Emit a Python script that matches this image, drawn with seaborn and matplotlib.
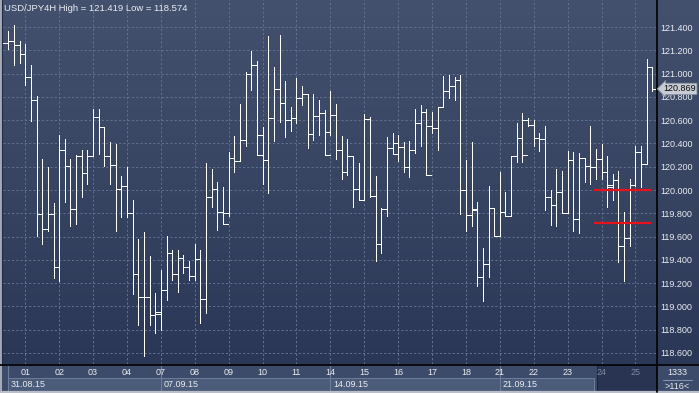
import numpy as np
import pandas as pd
import matplotlib
matplotlib.use("Agg")
import matplotlib.pyplot as plt
import matplotlib.transforms as mtransforms
from matplotlib.patches import Rectangle
from matplotlib.colors import LinearSegmentedColormap
import seaborn as sns

# ---------------- data (USD/JPY, 4H bars) ----------------
bar_open = [121.262, 121.283, 121.248, 121.171, 120.970, 120.775, 119.795, 119.669, 119.795, 119.337,
            120.346, 120.208, 119.838, 120.294, 120.145, 120.294, 120.626, 120.540, 120.294, 120.214,
            120.007, 120.036, 119.801, 119.277, 119.082, 119.082, 118.924, 118.933, 119.142, 119.457,
            119.277, 119.414, 119.337, 119.263, 119.409, 119.062, 119.939, 120.007, 119.810, 119.801,
            120.277, 120.248, 120.432, 120.999, 121.076, 120.475, 120.254, 120.618, 120.867, 120.747,
            120.603, 120.618, 120.790, 120.824, 120.480, 120.638, 120.661, 120.495, 120.644, 120.346,
            120.154, 120.294, 120.007, 119.916, 120.612, 119.950, 119.535, 119.838, 120.360, 120.403,
            120.369, 120.197, 120.346, 120.575, 120.669, 120.552, 120.532, 120.712, 120.847, 120.896,
            120.947, 120.002, 119.781, 119.830, 119.251, 119.363, 119.844, 119.601, 119.810, 119.773,
            120.294, 120.446, 120.603, 120.560, 120.446, 120.437, 119.939, 119.870, 119.979, 119.801,
            120.260, 119.750, 120.274, 120.208, 120.197, 120.265, 120.154, 120.039, 120.082, 119.523,
            119.586, 120.045, 120.323, 120.222, 121.056]
bar_high = [121.368, 121.419, 121.283, 121.257, 121.076, 120.810, 120.268, 120.194, 119.887, 120.475,
            120.440, 120.268, 120.303, 120.346, 120.346, 120.695, 120.695, 120.540, 120.411, 120.397,
            120.116, 120.194, 119.916, 119.583, 119.635, 119.434, 119.119, 119.314, 119.601, 119.486,
            119.486, 119.443, 119.391, 119.538, 119.486, 120.231, 120.182, 120.068, 120.030, 120.326,
            120.460, 120.741, 121.010, 121.197, 121.111, 120.538, 121.320, 121.056, 121.328, 120.939,
            120.712, 120.962, 120.896, 120.824, 120.827, 120.775, 120.689, 120.847, 120.741, 120.460,
            120.440, 120.294, 120.231, 120.652, 120.626, 120.116, 119.844, 120.452, 120.489, 120.475,
            120.409, 120.417, 120.695, 120.732, 120.695, 120.672, 120.712, 120.982, 120.990, 120.970,
            120.990, 120.260, 120.411, 119.901, 119.500, 120.036, 119.844, 120.151, 119.982, 120.294,
            120.575, 120.661, 120.618, 120.603, 120.489, 120.546, 120.002, 120.179, 120.159, 120.331,
            120.323, 120.317, 120.274, 120.546, 120.351, 120.397, 120.288, 120.139, 120.165, 119.815,
            120.093, 120.380, 120.380, 121.125, 121.056]
bar_low = [121.211, 121.070, 121.091, 120.899, 120.589, 119.601, 119.532, 119.652, 119.248, 119.214,
           119.901, 119.695, 119.704, 119.936, 120.053, 120.294, 120.311, 120.202, 120.053, 119.644,
           119.764, 119.764, 119.108, 118.841, 118.574, 118.841, 118.775, 118.798, 119.056, 119.228,
           119.128, 119.285, 119.228, 119.228, 118.856, 118.947, 119.850, 119.658, 119.707, 119.773,
           120.151, 120.254, 120.374, 120.861, 120.297, 120.053, 119.973, 120.417, 120.581, 120.452,
           120.503, 120.575, 120.727, 120.360, 120.426, 120.469, 120.297, 120.475, 120.265, 120.093,
           120.131, 119.850, 119.916, 119.916, 119.944, 119.394, 119.457, 119.773, 120.308, 120.245,
           120.151, 120.111, 120.317, 120.374, 120.131, 120.489, 120.340, 120.712, 120.790, 120.770,
           119.793, 119.652, 119.687, 119.179, 119.050, 119.251, 119.601, 119.601, 119.773, 119.773,
           120.237, 120.237, 120.546, 120.380, 120.331, 119.824, 119.701, 119.692, 119.801, 119.801,
           119.652, 119.629, 120.065, 120.050, 120.093, 120.093, 119.858, 119.910, 119.380, 119.222,
           119.523, 120.036, 120.025, 120.222, 120.853]
bar_close = [121.283, 121.248, 121.171, 120.970, 120.775, 119.795, 119.669, 119.795, 119.337, 120.346,
             120.208, 119.838, 120.294, 120.145, 120.294, 120.626, 120.540, 120.294, 120.214, 120.007,
             120.036, 119.801, 119.277, 119.082, 119.082, 118.924, 118.950, 119.142, 119.457, 119.277,
             119.414, 119.337, 119.263, 119.409, 119.062, 119.939, 120.007, 119.810, 119.709, 120.277,
             120.248, 120.432, 120.999, 121.076, 120.300, 120.254, 120.618, 120.867, 120.747, 120.603,
             120.618, 120.790, 120.824, 120.480, 120.638, 120.661, 120.300, 120.644, 120.346, 120.154,
             120.294, 120.007, 119.916, 120.612, 119.950, 119.535, 119.838, 120.360, 120.308, 120.369,
             120.197, 120.346, 120.575, 120.669, 120.131, 120.532, 120.712, 120.847, 120.896, 120.947,
             120.002, 119.781, 119.836, 119.251, 119.363, 119.844, 119.601, 119.810, 119.773, 120.294,
             120.446, 120.303, 120.560, 120.446, 120.437, 119.939, 119.870, 119.979, 119.801, 120.260,
             119.750, 120.274, 120.208, 120.197, 120.265, 120.154, 120.030, 120.082, 119.523, 119.586,
             120.045, 120.323, 120.222, 121.056, 120.869]

day_labels = ['01', '02', '03', '04', '07', '08', '09', '10', '11', '14',
              '15', '16', '17', '18', '21', '22', '23', '24', '25']
day_first_bar = [3, 9, 15, 21, 27, 33, 39, 45, 51, 57, 63, 69, 75, 81, 87, 93, 99, 105, 111]
dim_days = ['24', '25']
week_labels = ['31.08.15', '07.09.15', '14.09.15', '21.09.15']
week_first_bar = [0, 27, 57, 87]
current_zone_start_bar = 104.2
level_prices = [120.000, 119.718]
level_start_bar = 103.7
level_end_bar = 113.75
price_ticks = [118.6, 118.8, 119.0, 119.2, 119.4, 119.6, 119.8, 120.0,
               120.2, 120.4, 120.6, 120.8, 121.0, 121.2, 121.4]
chart_title = "USD/JPY4H High = 121.419 Low = 118.574"
last_price = 120.869
corner_top = "1333"
corner_bottom = ">116<"

df = pd.DataFrame({"bar": np.arange(len(bar_close)), "open": bar_open,
                   "high": bar_high, "low": bar_low, "close": bar_close})

# ---------------- style ----------------
sns.set_theme(style="dark")
plt.rcParams['font.family'] = ['Liberation Sans', 'DejaVu Sans']
FS = 6.5
TXT = '#e9ecf2'
GRID = '#617192'

W, H = 699, 393
fig = plt.figure(figsize=(W / 100, H / 100), dpi=100)
fig.patch.set_facecolor('#3c4b69')

# background / decoration layer in pixel coordinates
bg = fig.add_axes([0, 0, 1, 1])
bg.set_xlim(0, W)
bg.set_ylim(H, 0)
bg.axis('off')
cmap = LinearSegmentedColormap.from_list('g', ['#43516e', '#2b3756'])
grad = np.linspace(0, 1, 256).reshape(-1, 1)
bg.imshow(grad, extent=[0, W, 364, 0], aspect='auto', cmap=cmap, zorder=0)
bg.add_patch(Rectangle((0, 364), W, 29, facecolor='#3c4b69', edgecolor='none', zorder=1))
# outer frame
bg.plot([0.5, 0.5], [0, H], color='#b9bec8', lw=1.2, zorder=5)
bg.plot([0, W], [H - 1, H - 1], color='#b9bec8', lw=1.6, zorder=5)
bg.plot([2, 2], [0, 364], color='#222c44', lw=0.8, zorder=5)
# separators
bg.plot([656.5, 656.5], [0, H - 1.5], color='#050608', lw=1.3, zorder=6)
bg.plot([0, W], [364.5, 364.5], color='#050608', lw=1.3, zorder=6)
# corner box
bg.text(677.5, 372.5, corner_top, ha='center', va='center', color=TXT, fontsize=FS, zorder=7)
bg.plot([663, 692], [379.5, 379.5], color='#8391aa', lw=0.8, zorder=7)
bg.text(677.5, 386.5, corner_bottom, ha='center', va='center', color=TXT, fontsize=FS, zorder=7)

# ---------------- main axes ----------------
L, R, T, B = 3, 656, 0, 364
ax = fig.add_axes([L / W, (H - B) / H, (R - L) / W, (B - T) / H])
ax.set_facecolor('none')
bar_px = 5.65
first_px = 8.3
ax.set_xlim((L - first_px) / bar_px, (R - first_px) / bar_px)
ax.set_ylim(120 - (B - 190) / 116.4, 120 + (190 - T) / 116.4)

lw = 0.62
ax.vlines(df['bar'], df['low'], df['high'], color='white', lw=lw, zorder=3, antialiased=False)
tick = 0.88
ax.hlines(df['open'], df['bar'] - tick, df['bar'], color='white', lw=lw, zorder=3, antialiased=False)
ax.hlines(df['close'], df['bar'], df['bar'] + tick, color='white', lw=lw, zorder=3, antialiased=False)

ax.hlines(level_prices, level_start_bar, level_end_bar, color='#e8121a', lw=1.6, zorder=4)

ax.set_xticks(day_first_bar)
ax.set_xticklabels(day_labels)
ax.set_yticks(price_ticks)
ax.set_yticklabels([f"{v:.3f}" for v in price_ticks])
ax.yaxis.tick_right()
ax.tick_params(axis='y', length=0, pad=3.0, labelsize=FS, colors=TXT)
ax.tick_params(axis='x', length=0, pad=3.0, labelsize=FS, colors=TXT)
for lab in ax.get_xticklabels():
    if lab.get_text() in dim_days:
        lab.set_color('#7d8aa3')
ax.grid(True, color=GRID, linestyle=(0, (2.2, 2.2)), linewidth=0.7)
ax.set_axisbelow(True)
for s in ax.spines.values():
    s.set_visible(False)

ax.text(1 / (R - L), 1 - 8.5 / (B - T), chart_title, transform=ax.transAxes,
        ha='left', va='center', color=TXT, fontsize=FS + 0.3, zorder=6)

# last price label
ax.annotate(f"{last_price:.3f}", xy=(1.0, last_price), xycoords=('axes fraction', 'data'),
            xytext=(5.2, 0), textcoords='offset points', ha='left', va='center',
            fontsize=FS, color='#0a0a0a', zorder=10, annotation_clip=False,
            bbox=dict(boxstyle='larrow,pad=0.12', fc='#c8ccd4', ec='#8c93a1', lw=0.6))

# ---------------- bottom date row ----------------
tr = mtransforms.blended_transform_factory(ax.transData, bg.transData)
week_edges = week_first_bar + [level_start_bar]
for k, lab in enumerate(week_labels):
    x0, x1 = week_edges[k], week_edges[k + 1]
    bg.add_patch(Rectangle((x0, 378), x1 - x0, 13, transform=tr, facecolor='#4b5b7a',
                           edgecolor='#6e7e9a', lw=0.7, zorder=2, clip_on=False))
    bg.plot([x0, x0], [365, 391], transform=tr, color='#6e7e9a', lw=0.8, zorder=3, clip_on=False)
    bg.text(x0 + 0.45, 384.8, lab, transform=tr, ha='left', va='center', color=TXT,
            fontsize=FS, zorder=4, clip_on=False)
bg.add_patch(Rectangle((current_zone_start_bar, 365), ax.get_xlim()[1] - current_zone_start_bar, 26,
                       transform=tr, facecolor='#283452', edgecolor='#1c2338', lw=0.7,
                       zorder=3, clip_on=False))

fig.savefig('out.png', dpi=100, facecolor=fig.get_facecolor())
